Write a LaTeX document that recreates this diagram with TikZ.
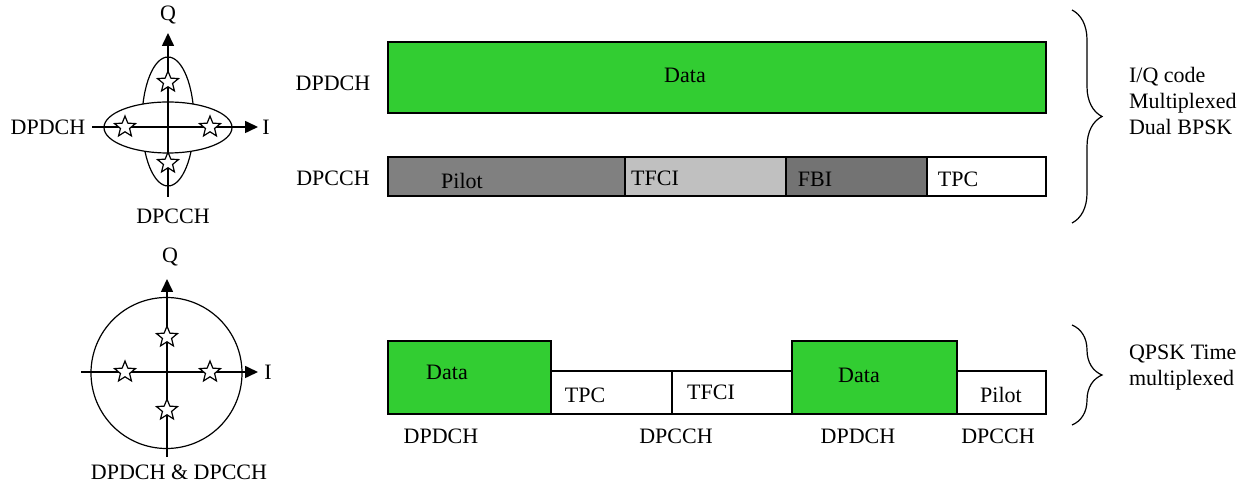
\documentclass[tikz,border=0pt]{standalone}
\usepackage{fontspec}
\setmainfont{Liberation Serif}
\usetikzlibrary{arrows.meta, shapes.geometric, decorations.pathreplacing}
\definecolor{DataColor}{RGB}{50,205,50}
\definecolor{PilotColor}{RGB}{128,128,128}
\definecolor{TfciColor}{RGB}{192,192,192}
\definecolor{FbiColor}{RGB}{115,115,115}
\tikzstyle{axis} = [line width=0.8pt, -{Triangle[length=6.5pt, width=6pt]}]
\tikzstyle{slot} = [draw, line width=0.8pt]
\tikzstyle{symbol} = [star, star points=5, star point ratio=2.3, draw, fill=white, line width=0.6pt, minimum size=11pt, inner sep=0pt]
\tikzset{
  region/.style={draw, fill=white, line width=0.6pt},
  curly/.style={decorate, decoration={brace, amplitude=15pt}, line width=0.6pt},
  side text/.style={anchor=west, align=left}
}

\begin{document}
\begin{tikzpicture}[x=0.5pt, y=-0.5pt, font=\fontsize{11}{13}\selectfont]
    \useasboundingbox (0,0) rectangle (1251,485);

    % Dual BPSK constellation
    \draw[region] (168,121.5) ellipse [x radius=26, y radius=64.5];
    \draw[region] (168,127.5) ellipse [x radius=64, y radius=25.5];
    \node (dpdchiq) at (48,127) {DPDCH};
    \node (qiq) at (168,15) {Q};
    \node (iiq) at (266,127) {I};
    \node (dpcchiq) at (173,216) {DPCCH};
    \coordinate (qiqend) at (168,197);
    \coordinate (qiqtip) at (168,33);
    \coordinate (iiqtip) at (258,127);
    \draw[axis] (qiqend) -- (qiqtip);
    \draw[axis] (dpdchiq.east) -- (iiqtip);
    \foreach \x/\y [count=\i] in {168/82, 168/163, 125/127, 210/127} {
            \node[symbol] (iqstar\i) at (\x,\y) {};
        }

    % QPSK constellation
    \draw[region] (166.5,373) circle [radius=75.5];
    \node (qqp) at (170,257) {Q};
    \node (iqp) at (268,372) {I};
    \node (bothqp) at (179,472) {DPDCH \& DPCCH};
    \coordinate (qqpend) at (167,457);
    \coordinate (qqptip) at (167,279);
    \coordinate (iqpend) at (81,372);
    \coordinate (iqptip) at (258,372);
    \draw[axis] (qqpend) -- (qqptip);
    \draw[axis] (iqpend) -- (iqptip);
    \foreach \x/\y [count=\i] in {167/337, 167/410, 125/372, 210/372} {
            \node[symbol] (qpstar\i) at (\x,\y) {};
        }

    % I/Q multiplexed slots
    \draw[slot, fill=DataColor] (388,42) rectangle (1046,113);
    \node (datatop) at (685,75) {Data};
    \node (dpdchtop) at (333,83) {DPDCH};
    \node (dpcchtop) at (333,178) {DPCCH};
    \foreach \a/\b/\c in {388/625/PilotColor, 625/786/TfciColor, 786/927/FbiColor, 927/1046/white} {
            \draw[slot, fill=\c] (\a,157) rectangle (\b,196);
        }
    \node (pilottop) at (462,181) {Pilot};
    \node (tfcitop) at (655,178) {TFCI};
    \node (fbitop) at (815,179) {FBI};
    \node (tpctop) at (958,179) {TPC};

    % Time multiplexed slots
    \foreach \a/\b/\t/\c in {388/551/341/DataColor, 551/672/371/white, 672/792/371/white, 792/957/341/DataColor, 957/1046/371/white} {
            \draw[slot, fill=\c] (\a,\t) rectangle (\b,414);
        }
    \node (dataone) at (447,372) {Data};
    \node (tpcbot) at (585,395) {TPC};
    \node (tfcibot) at (711,392) {TFCI};
    \node (datatwo) at (859,375) {Data};
    \node (pilotbot) at (1001,395) {Pilot};
    \foreach \x/\t [count=\i] in {441/DPDCH, 676/DPCCH, 858/DPDCH, 998/DPCCH} {
            \node (chan\i) at (\x,436) {\t};
        }

    % Braces
    \coordinate (iqbracetop) at (1072,10);
    \coordinate (iqbracebot) at (1072,223);
    \coordinate (qpbracetop) at (1072,325);
    \coordinate (qpbracebot) at (1072,425);
    \draw[curly] (iqbracetop) -- (iqbracebot);
    \draw[curly] (qpbracetop) -- (qpbracebot);
    \node[side text] (iqtext) at (1122,101) {I/Q code\\Multiplexed\\Dual BPSK};
    \node[side text] (qptext) at (1122,368) {QPSK Time\\multiplexed};
\end{tikzpicture}
\end{document}
